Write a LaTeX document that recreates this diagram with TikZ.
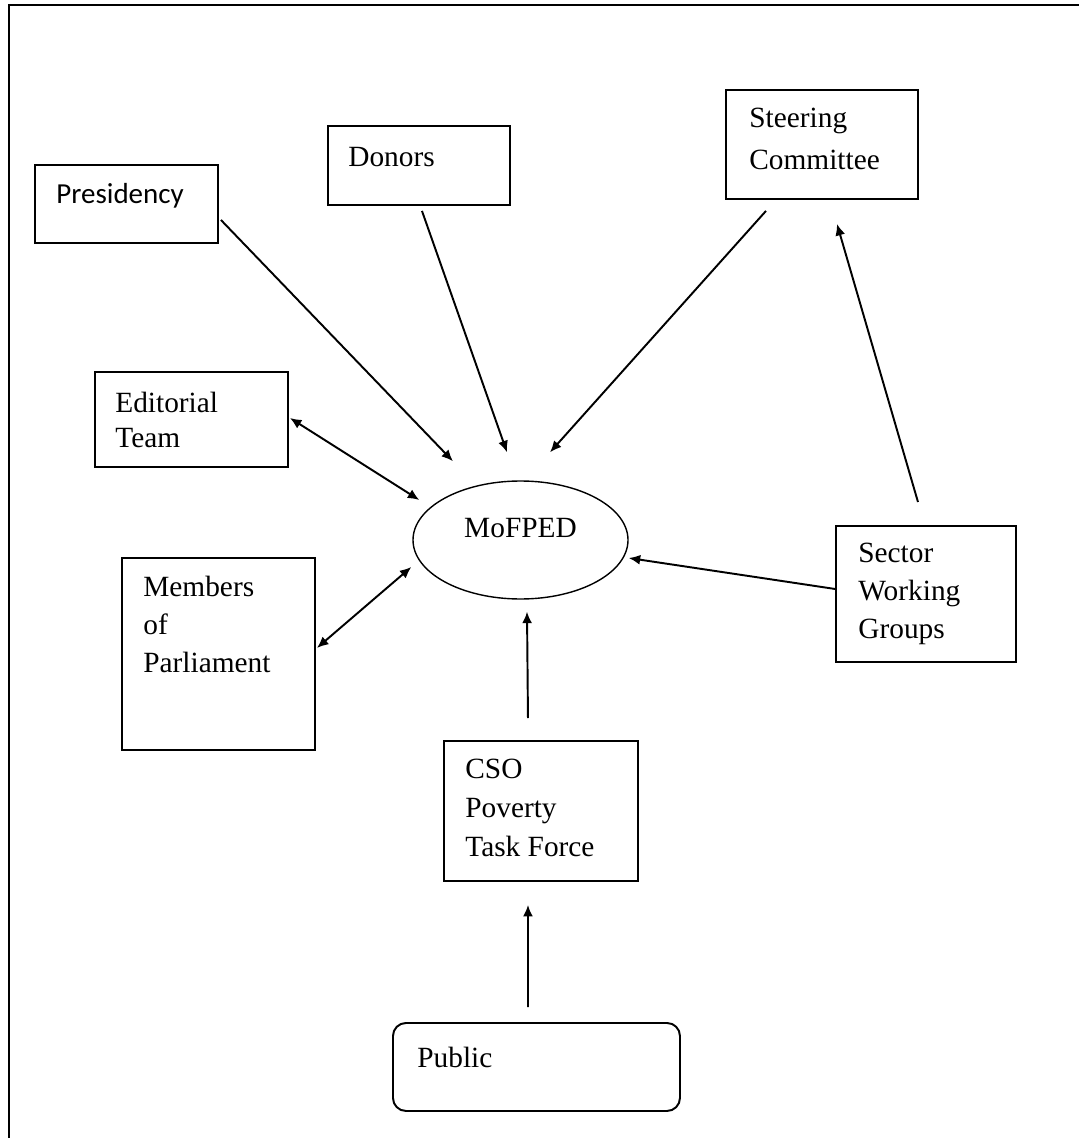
\documentclass[tikz,border=0pt]{standalone}
\usepackage{fontspec}
\setmainfont{Liberation Serif}
\newfontfamily\calibrifont{Carlito}
\usetikzlibrary{positioning,shapes.geometric,arrows.meta}

\begin{document}
\begin{tikzpicture}[
	box/.style={draw,line width=1.1pt,anchor=north west,inner sep=0pt},
	txt/.style={inner sep=0pt,align=left,font=\fontsize{16.7}{21.6}\selectfont},
	arr/.style={line width=1.1pt,-{Latex[length=2.3mm,width=2mm]}},
	darr/.style={line width=1.1pt,{Latex[length=2.3mm,width=2mm]}-{Latex[length=2.3mm,width=2mm]}}]
		\useasboundingbox (0,0) rectangle (21.56,-22.76);
		\draw[line width=1.4pt] (0.18,-22.8) -- (0.18,-0.1) -- (21.6,-0.1);
		% boxes
		\node[box,minimum width=3.66cm,minimum height=1.56cm](P) at (0.68,-3.28) {};
		\node[txt,font=\calibrifont\fontsize{16.5}{20}\selectfont,below right=0.38cm and 0.44cm of P.north west](Pt) {Presidency};
		\node[box,minimum width=3.64cm,minimum height=1.58cm](D) at (6.54,-2.5) {};
		\node[txt,below right=0.43cm and 0.42cm of D.north west](Dt) {Donors};
		\node[box,minimum width=3.84cm,minimum height=2.18cm](S) at (14.5,-1.78) {};
		\node[txt,font=\fontsize{16.7}{23.9}\selectfont,below right=0.38cm and 0.48cm of S.north west](St) {Steering\\Committee};
		\node[box,minimum width=3.86cm,minimum height=1.9cm](E) at (1.88,-7.42) {};
		\node[txt,font=\fontsize{16.7}{19.9}\selectfont,below right=0.42cm and 0.42cm of E.north west](Et) {Editorial\\Team};
		\node[box,minimum width=3.86cm,minimum height=3.84cm](M) at (2.42,-11.14) {};
		\node[txt,below right=0.38cm and 0.44cm of M.north west](Mt) {Members\\of\\Parliament};
		\node[box,minimum width=3.6cm,minimum height=2.72cm](W) at (16.7,-10.5) {};
		\node[txt,below right=0.36cm and 0.46cm of W.north west](Wt) {Sector\\Working\\Groups};
		\node[box,minimum width=3.88cm,minimum height=2.8cm](C) at (8.86,-14.8) {};
		\node[txt,font=\fontsize{16.7}{22.2}\selectfont,below right=0.38cm and 0.44cm of C.north west](Ct) {CSO\\Poverty\\Task Force};
		\node[box,rounded corners=0.26cm,minimum width=5.74cm,minimum height=1.76cm](U) at (7.84,-20.44) {};
		\node[txt,below right=0.5cm and 0.5cm of U.north west](Ut) {Public};
		\node[ellipse,draw,line width=0.8pt,minimum width=4.3cm,minimum height=2.36cm,text depth=0.48cm,font=\fontsize{16.7}{20}\selectfont](F) at (10.41,-10.8) {MoFPED};
		% arrows
		\draw[arr] ([shift={(0.04,-0.32)}]P.east) -- ([shift={(-1.35,0.38)}]F.north);
		\draw[arr] ([shift={(0.06,-0.1)}]D.south) -- ([shift={(-0.27,0.56)}]F.north);
		\draw[arr] ([shift={(-1.12,-0.22)}]S.south) -- ([shift={(0.59,0.56)}]F.north);
		\draw[arr] ([shift={(-0.16,0.46)}]W.north) -- ([shift={(0.3,-0.48)}]S.south);
		\draw[darr] ([shift={(0.02,0.03)}]E.east) -- ([shift={(0.14,0.8)}]F.west);
		\draw[darr] ([shift={(0.02,0.12)}]M.east) -- ([shift={(-0.02,-0.54)}]F.west);
		\draw[arr] ([shift={(0,0.1)}]W.west) -- ([shift={(0,-0.36)}]F.east);
		\draw[arr] ([shift={(-0.26,0.44)}]C.north) -- ([shift={(0.13,-0.24)}]F.south);
		\draw[arr] ([shift={(-0.17,0.3)}]U.north) -- ([shift={(-0.26,-0.46)}]C.south);
\end{tikzpicture}
\end{document}
